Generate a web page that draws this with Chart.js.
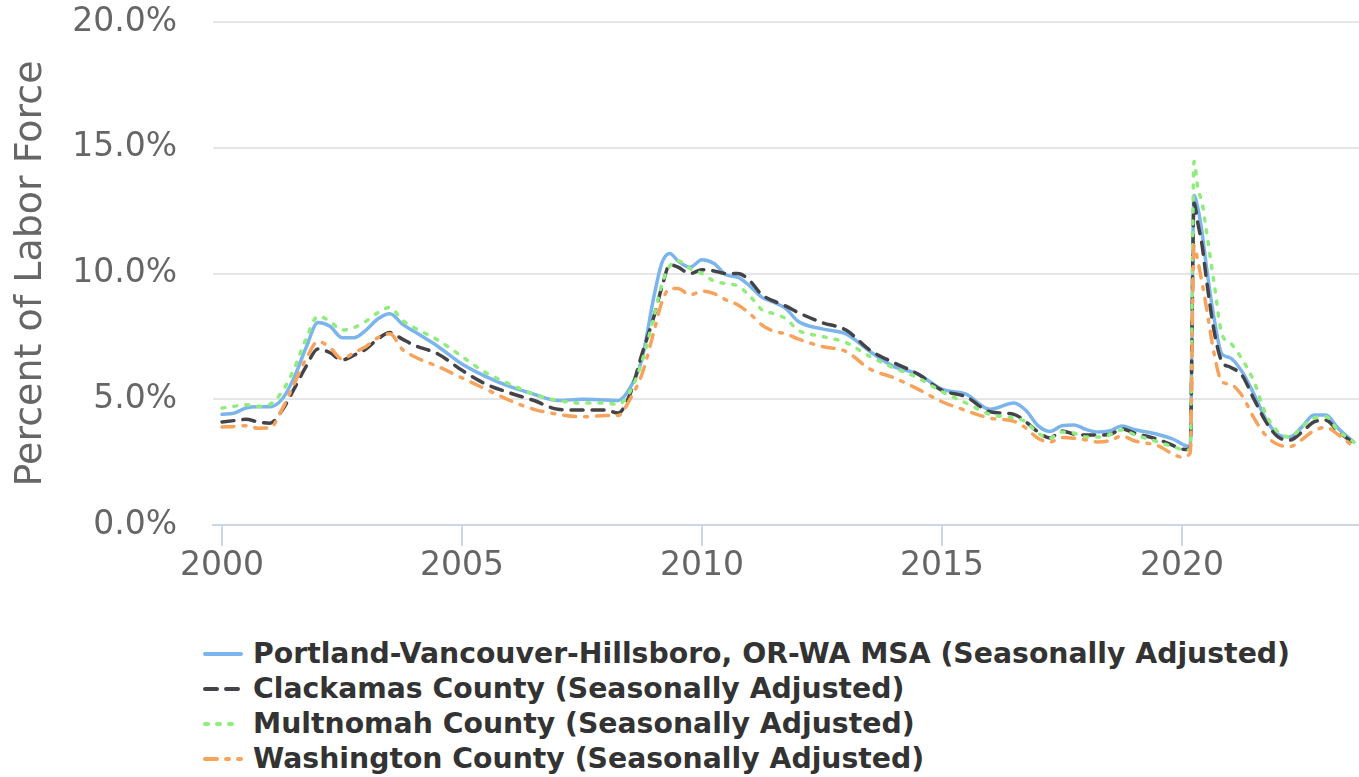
<!DOCTYPE html>
<html>
<head>
<meta charset="utf-8">
<script src="https://cdn.jsdelivr.net/npm/chart.js@4/dist/chart.umd.min.js"></script>
<style>
  html, body { margin: 0; padding: 0; background: #ffffff; }
  body { width: 1359px; height: 777px; position: relative; overflow: hidden; font-family: "DejaVu Sans", sans-serif; }
  #wrap { position: absolute; left: 0; top: 0; width: 1359px; height: 600px; }
  #legend { position: absolute; left: 203px; top: 636px; }
  .row { display: flex; align-items: center; height: 35px; }
  .row svg { width: 40px; height: 8px; margin-right: 10px; }
  .row span { font-weight: bold; font-size: 28.3px; color: #333333; white-space: nowrap; }
</style>
</head>
<body>
<div id="wrap"><canvas id="c"></canvas></div>
<div id="legend"></div>
<script>
// Decimal-year dates for the observations
const dates = [2000.0, 2000.25, 2000.5, 2000.75, 2001.0, 2001.25, 2001.5, 2001.75,
  2002.0, 2002.25, 2002.5, 2002.75, 2003.0, 2003.25, 2003.5, 2003.75,
  2004.0, 2004.5, 2005.0, 2005.5, 2006.0, 2006.5, 2007.0, 2007.5,
  2008.0, 2008.25, 2008.5, 2008.75, 2009.0, 2009.17, 2009.33, 2009.5, 2009.75,
  2010.0, 2010.25, 2010.5, 2010.75, 2011.0, 2011.25, 2011.5, 2011.75,
  2012.0, 2012.5, 2013.0, 2013.5, 2014.0, 2014.5, 2015.0, 2015.5,
  2016.0, 2016.5, 2016.75, 2017.0, 2017.25, 2017.5, 2017.75,
  2018.0, 2018.25, 2018.5, 2018.75, 2019.0, 2019.5, 2019.83,
  2020.0, 2020.17, 2020.25, 2020.33, 2020.42, 2020.5, 2020.67, 2020.83,
  2021.0, 2021.25, 2021.5, 2021.75, 2022.0, 2022.25, 2022.5, 2022.75,
  2023.0, 2023.25, 2023.58];

const portlandMSA = [4.4, 4.45, 4.65, 4.7, 4.7, 5.0, 5.85, 7.05,
  8.05, 7.9, 7.45, 7.45, 7.75, 8.2, 8.4, 8.0,
  7.7, 7.1, 6.4, 5.9, 5.5, 5.2, 4.95, 5.0,
  4.97, 4.95, 5.45, 6.6, 9.1, 10.45, 10.8, 10.5, 10.25,
  10.55, 10.4, 9.95, 9.85, 9.5, 9.05, 8.85, 8.6,
  8.1, 7.8, 7.6, 6.9, 6.3, 6.0, 5.4, 5.2,
  4.6, 4.85, 4.55, 3.95, 3.72, 3.95, 3.98,
  3.8, 3.7, 3.75, 3.94, 3.8, 3.6, 3.4,
  3.22, 3.1, 13.1, 12.6, 11.6, 10.4, 8.2, 6.8,
  6.65, 6.1, 5.2, 4.2, 3.6, 3.5, 3.9, 4.37,
  4.37, 3.85, 3.3];

const clackamas = [4.1, 4.15, 4.2, 4.1, 4.05, 4.55, 5.4, 6.3,
  7.0, 6.85, 6.56, 6.75, 7.0, 7.4, 7.65, 7.4,
  7.15, 6.8, 6.15, 5.6, 5.25, 4.95, 4.6, 4.57,
  4.57, 4.45, 5.2, 6.8, 8.3, 9.5, 10.35, 10.25, 10.0,
  10.15, 10.1, 10.0, 10.0, 9.7, 9.15, 8.9, 8.7,
  8.45, 8.05, 7.75, 6.95, 6.45, 6.0, 5.35, 5.1,
  4.5, 4.4, 4.1, 3.7, 3.46, 3.74, 3.62,
  3.58, 3.58, 3.6, 3.82, 3.66, 3.4, 3.15,
  3.02, 3.0, 12.8, 12.0, 11.1, 9.9, 7.7, 6.5,
  6.28, 5.95, 5.0, 4.1, 3.5, 3.38, 3.7, 4.1,
  4.17, 3.72, 3.25];

const multnomah = [4.65, 4.72, 4.78, 4.72, 4.8, 5.3, 6.2, 7.4,
  8.3, 8.1, 7.75, 7.85, 8.1, 8.45, 8.65, 8.15,
  7.85, 7.35, 6.7, 6.05, 5.6, 5.2, 4.95, 4.85,
  4.85, 4.8, 5.3, 6.5, 8.3, 9.6, 10.3, 10.5, 10.2,
  10.0, 9.7, 9.6, 9.5, 9.1, 8.55, 8.4, 8.2,
  7.75, 7.5, 7.25, 6.7, 6.24, 5.85, 5.3, 4.85,
  4.4, 4.25, 4.1, 3.65, 3.46, 3.7, 3.65,
  3.5, 3.5, 3.6, 3.78, 3.6, 3.3, 3.1,
  3.0, 2.98, 14.45, 13.4, 12.8, 11.8, 9.6, 7.6,
  7.25, 6.6, 5.7, 4.4, 3.7, 3.5, 3.9, 4.25,
  4.3, 3.75, 3.3];

const washington = [3.9, 3.92, 3.95, 3.85, 3.86, 4.6, 5.6, 6.6,
  7.3, 7.05, 6.6, 6.85, 7.1, 7.45, 7.6, 7.0,
  6.7, 6.3, 5.85, 5.4, 4.95, 4.6, 4.4, 4.3,
  4.35, 4.35, 5.0, 6.0, 7.7, 8.9, 9.4, 9.4, 9.15,
  9.3, 9.2, 8.95, 8.75, 8.4, 7.95, 7.7, 7.6,
  7.4, 7.1, 6.9, 6.2, 5.85, 5.4, 4.9, 4.55,
  4.25, 4.12, 3.85, 3.45, 3.3, 3.48, 3.45,
  3.38, 3.3, 3.35, 3.54, 3.35, 3.15, 2.8,
  2.7, 2.86, 11.1, 10.5, 9.6, 8.75, 6.8, 5.7,
  5.6, 5.15, 4.25, 3.55, 3.2, 3.12, 3.4, 3.75,
  3.88, 3.6, 3.1];

const seriesNames = [
  "Portland-Vancouver-Hillsboro, OR-WA MSA (Seasonally Adjusted)",
  "Clackamas County (Seasonally Adjusted)",
  "Multnomah County (Seasonally Adjusted)",
  "Washington County (Seasonally Adjusted)"
];
const xTickYears = [2000, 2005, 2010, 2015, 2020];
const yTickValues = [0, 5, 10, 15, 20];
const yAxisTitle = "Percent of Labor Force";

const colors = ["#7cb5ec", "#434348", "#90ed7d", "#f7a35c"];
const dashes = [[], [12, 9], [3, 9], [12, 9, 3, 9]];
const seriesValues = [portlandMSA, clackamas, multnomah, washington];
const drawOrder = [3, 2, 1, 0];

Chart.defaults.font.family = '"DejaVu Sans", sans-serif';

const datasets = seriesValues.map((vals, i) => ({
  label: seriesNames[i],
  data: dates.map((d, k) => ({ x: d, y: vals[k] })),
  borderColor: colors[i],
  backgroundColor: colors[i],
  borderWidth: 3.5,
  borderDash: dashes[i],
  borderCapStyle: 'round',
  borderJoinStyle: 'round',
  pointRadius: 0,
  fill: false,
  cubicInterpolationMode: 'monotone',
  order: drawOrder[i]
}));

new Chart(document.getElementById('c'), {
  type: 'line',
  data: { datasets },
  options: {
    responsive: true,
    maintainAspectRatio: false,
    animation: false,
    devicePixelRatio: 1,
    layout: { padding: { top: 22, left: 0, right: 0, bottom: 0 } },
    plugins: { legend: { display: false }, tooltip: { enabled: false } },
    scales: {
      x: {
        type: 'linear',
        min: 2000 - 9 / 48,
        max: 2000 + 1137 / 48,
        afterBuildTicks: s => { s.ticks = xTickYears.map(v => ({ value: v })); },
        afterFit: s => { s.height = 75; s.paddingLeft = 0; s.paddingRight = 0; },
        grid: { display: true, drawOnChartArea: false, drawTicks: true, tickLength: 21, color: '#ccd6eb', lineWidth: 2 },
        border: { display: true, color: '#ccd6eb', width: 2 },
        ticks: { color: '#666666', font: { size: 33 }, padding: 1, maxRotation: 0, autoSkip: false,
          callback: v => String(v) }
      },
      y: {
        min: 0,
        max: 20,
        afterBuildTicks: s => { s.ticks = yTickValues.map(v => ({ value: v })); },
        afterFit: s => { s.width = 213; s.paddingTop = 0; s.paddingBottom = 0; },
        grid: { color: '#e6e6e6', lineWidth: 2, drawTicks: false },
        border: { display: false },
        ticks: { color: '#666666', font: { size: 33 }, padding: 36,
          callback: v => Number(v).toFixed(1) + '%' },
        title: { display: true, text: yAxisTitle, color: '#666666', font: { size: 38 }, padding: { top: 8, bottom: 0 } }
      }
    }
  }
});

// HTML legend
const legend = document.getElementById('legend');
seriesNames.forEach((name, i) => {
  const row = document.createElement('div');
  row.className = 'row';
  const ns = 'http://www.w3.org/2000/svg';
  const svg = document.createElementNS(ns, 'svg');
  svg.setAttribute('viewBox', '0 0 40 8');
  const ln = document.createElementNS(ns, 'line');
  ln.setAttribute('x1', '2'); ln.setAttribute('y1', '4');
  ln.setAttribute('x2', '38'); ln.setAttribute('y2', '4');
  ln.setAttribute('stroke', colors[i]);
  ln.setAttribute('stroke-width', '4');
  ln.setAttribute('stroke-linecap', 'round');
  if (dashes[i].length) ln.setAttribute('stroke-dasharray', dashes[i].join(','));
  svg.appendChild(ln);
  const span = document.createElement('span');
  span.textContent = name;
  row.appendChild(svg);
  row.appendChild(span);
  legend.appendChild(row);
});
</script>
</body>
</html>
